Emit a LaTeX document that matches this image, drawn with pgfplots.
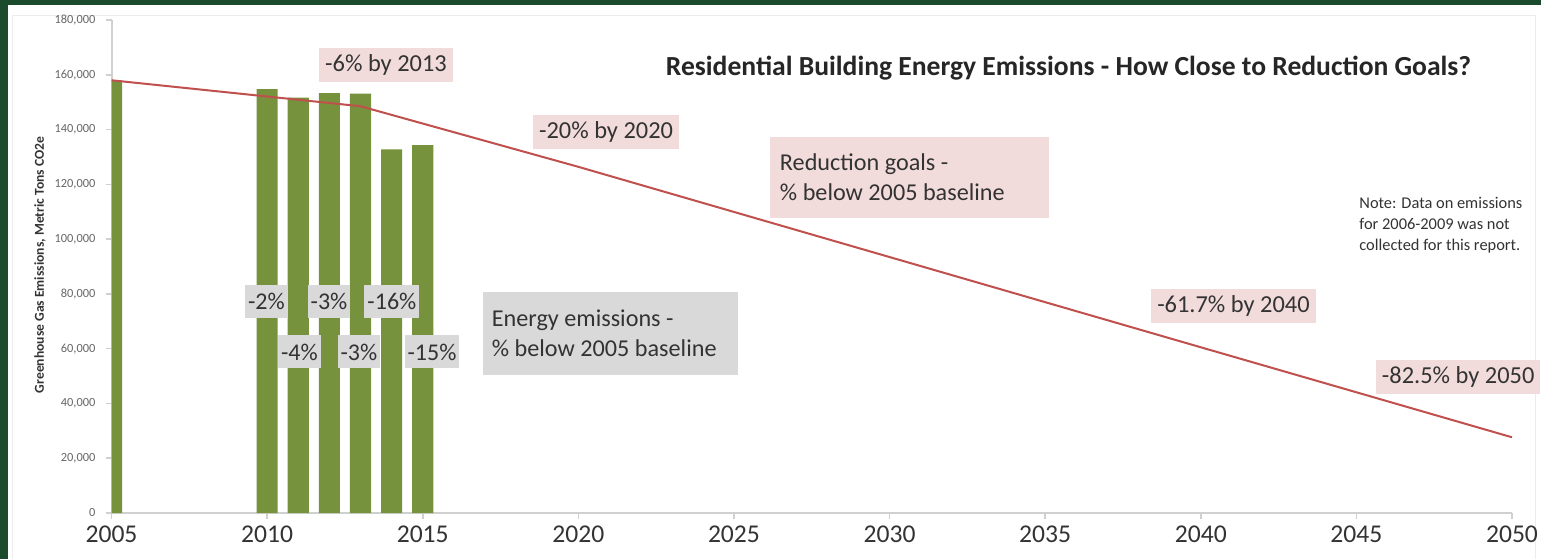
\documentclass[border=0pt]{standalone}
\usepackage{fontspec}
\setmainfont{Carlito}
\usepackage{pgfplots}
\pgfplotsset{compat=1.18}

\definecolor{frameGreen}{HTML}{1B4A2C}
\definecolor{barGreen}{HTML}{76923C}
\definecolor{goalRed}{HTML}{C0504D}
\definecolor{goalPink}{HTML}{F2DCDB}
\definecolor{labelGray}{HTML}{D9D9D9}
\definecolor{axisGray}{HTML}{D0D0D0}
\definecolor{textDark}{HTML}{333333}
\definecolor{tickText}{HTML}{666666}

\begin{document}
\begin{tikzpicture}[
  pctbox/.style={fill=labelGray, text=textDark, font=\fontsize{12}{14}\selectfont,
    inner xsep=1.5pt, inner ysep=0pt, minimum height=16.5pt},
  goalbox/.style={fill=goalPink, text=textDark, font=\fontsize{12.2}{15}\selectfont,
    inner xsep=3pt, inner ysep=0pt, minimum height=17pt}]
% frame and panel (1 unit = one pixel of the finished picture)
\begin{scope}[x=0.5pt,y=-0.5pt]
  \fill[frameGreen] (0,0) rectangle (1541,559);
  \fill[white] (8,5) rectangle (1541,559);
  \draw[gray!15] (12,559) -- (12,15) -- (1535,15) -- (1535,559);
\end{scope}

\begin{axis}[
  at={(55.75pt,-256.5pt)}, anchor=south west,
  scale only axis, width=700.25pt, height=246.5pt,
  xmin=2005, xmax=2050, ymin=0, ymax=180000,
  axis lines*=left,
  axis line style={draw=axisGray, line width=1pt},
  xtick={2005,2010,...,2050},
  ytick={0,20000,...,180000},
  tick style={draw=axisGray, line width=0.8pt},
  tick align=outside, major tick length=3pt,
  /pgf/number format/assume math mode=true,
  scaled y ticks=false,
  yticklabel style={font=\fontsize{6.2}{7}\selectfont, text=tickText,
    xshift=-1.5pt,
    /pgf/number format/fixed, /pgf/number format/1000 sep={,}},
  xticklabel style={font=\fontsize{12.8}{14}\selectfont, text=textDark,
    /pgf/number format/1000 sep={}},
  clip mode=individual,
]
% measured emissions
\addplot[ybar, bar width=0.68, fill=barGreen, draw=none] coordinates {
  (2005,158000) (2010,154800) (2011,151700) (2012,153300)
  (2013,153100) (2014,132800) (2015,134300)};
% reduction goal path
\addplot[goalRed, line width=1pt, mark=none] coordinates {
  (2005,158000) (2013,148520) (2020,126400) (2040,60514) (2050,27650)};

% change against the 2005 baseline
\node[pctbox] at (axis cs:2009.98,77200) {-2\%};
\node[pctbox] at (axis cs:2011.04,58800) {-4\%};
\node[pctbox] at (axis cs:2011.99,77200) {-3\%};
\node[pctbox] at (axis cs:2012.95,58800) {-3\%};
\node[pctbox] at (axis cs:2014.01,77200) {-16\%};
\node[pctbox] at (axis cs:2015.30,58800) {-15\%};

% goal labels
\node[goalbox] at (axis cs:2013.82,163570) {-6\% by 2013};
\node[goalbox] at (axis cs:2020.89,139290) {-20\% by 2020};
\node[goalbox] at (axis cs:2041.05,75580) {-61.7\% by 2040};
\node[goalbox] at (axis cs:2048.27,49655) {-82.5\% by 2050};

\node[fill=goalPink, text=textDark, font=\fontsize{12.1}{15}\selectfont,
  align=flush left, text width=129.5pt, inner xsep=5pt, inner ysep=0pt,
  minimum height=40.5pt] at (axis cs:2030.64,122490)
  {Reduction goals -\\\% below 2005 baseline};
\node[fill=labelGray, text=textDark, font=\fontsize{12.1}{15}\selectfont,
  align=flush left, text width=118.5pt, inner xsep=4.5pt, inner ysep=0pt,
  minimum height=41.5pt] at (axis cs:2021.03,65540)
  {Energy emissions -\\\% below 2005 baseline};
\end{axis}

\begin{scope}[x=0.5pt,y=-0.5pt]
  \node[anchor=base, font=\bfseries\fontsize{13.8}{15}\selectfont, text=black!85]
    at (1068.5,75) {Residential Building Energy Emissions - How Close to Reduction Goals?};
  \node[anchor=north west, align=left, inner sep=0pt,
    font=\fontsize{8.2}{10.5}\selectfont, text=textDark]
    at (1359,197) {Note: Data on emissions\\for 2006-2009 was not\\collected for this report.};
  \node[rotate=90, font=\bfseries\fontsize{6.8}{8}\selectfont, text=textDark]
    at (40,265) {Greenhouse Gas Emissions, Metric Tons CO2e};
\end{scope}
\pgfresetboundingbox
\path[use as bounding box] (0,0) rectangle (770.5pt,-279.5pt);
\end{tikzpicture}
\end{document}
